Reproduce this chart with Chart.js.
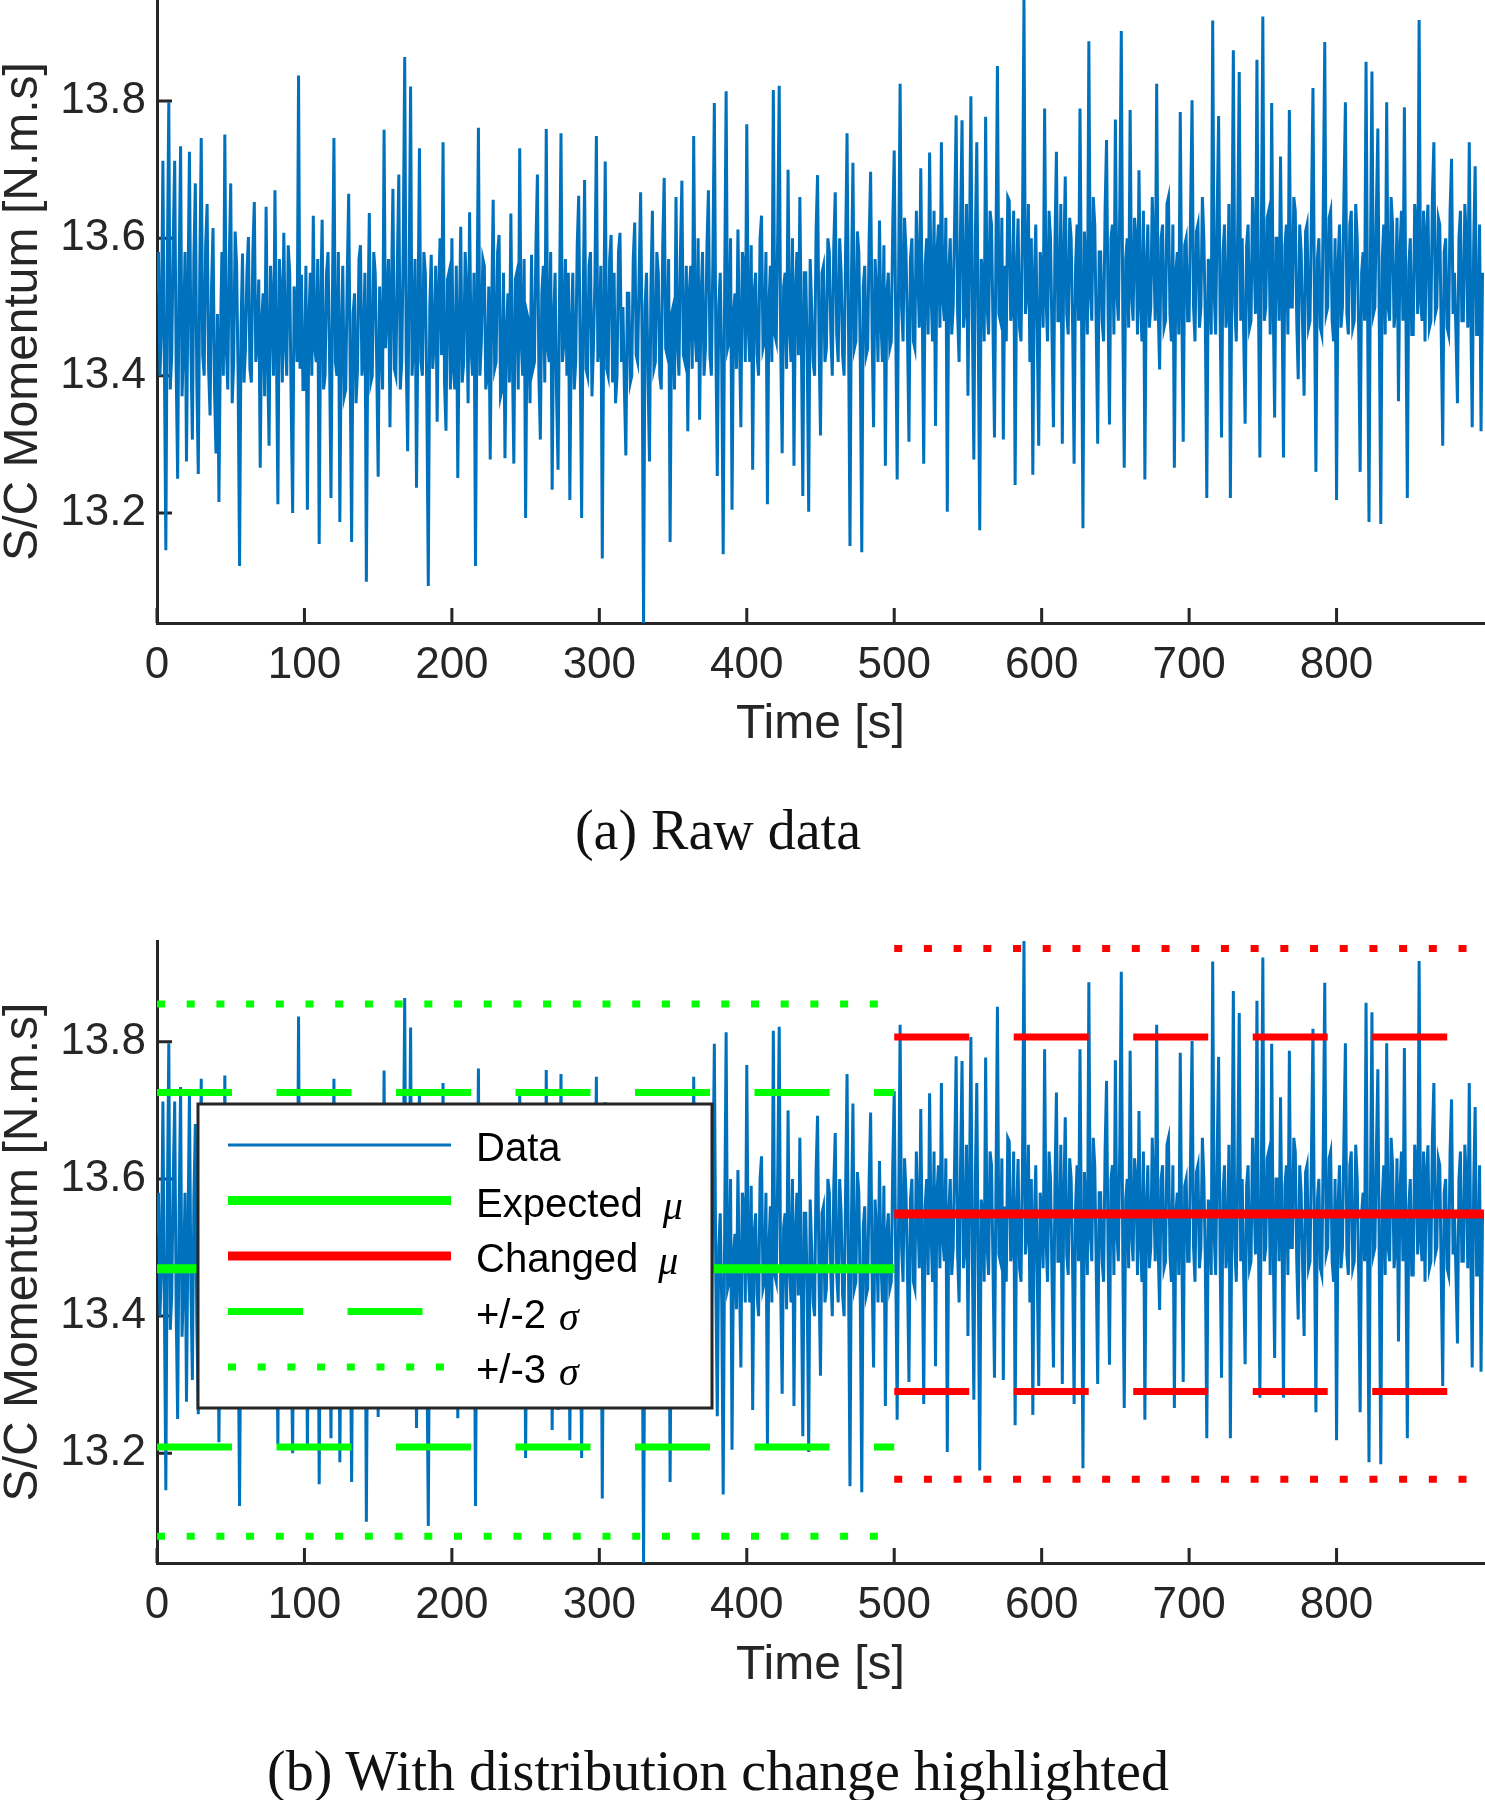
<!DOCTYPE html>
<html>
<head>
<meta charset="utf-8">
<script src="https://cdn.jsdelivr.net/npm/chart.js@4.4.0/dist/chart.umd.min.js"></script>
<style>
  body { margin: 0; background: #fff; width: 1485px; height: 1800px; position: relative; overflow: hidden; }
  .wrap { position: absolute; left: 0; width: 1485px; }
  #wrapA { top: 0; height: 760px; }
  #wrapB { top: 900px; height: 860px; }
  .caption { position: absolute; left: 0; width: 1436px; text-align: center; font-family: "Liberation Serif", serif; font-size: 56px; line-height: 56px; color: #111; }
</style>
</head>
<body>
<div class="wrap" id="wrapA"><canvas id="chartA" width="1485" height="760"></canvas></div>
<div class="caption" style="top:802px">(a) Raw data</div>
<div class="wrap" id="wrapB"><canvas id="chartB" width="1485" height="860"></canvas></div>
<div class="caption" style="top:1743px">(b) With distribution change highlighted</div>
<script>
// momentum samples, one per second starting at t = 0
const sampleStep = 1;
const momentum = [
    13.52, 13.58, 13.40, 13.47, 13.713, 13.42, 13.146, 13.56, 13.798, 13.38, 13.43, 13.60, 13.713, 13.41, 13.25, 13.55, 13.734, 13.37, 13.45, 13.58,
    13.275, 13.52, 13.726, 13.44, 13.307, 13.57, 13.68, 13.39, 13.257, 13.55, 13.746, 13.43, 13.40, 13.59, 13.65, 13.41, 13.342, 13.53, 13.615, 13.38,
    13.287, 13.49, 13.216, 13.45, 13.58, 13.40, 13.751, 13.44, 13.38, 13.57, 13.68, 13.36, 13.42, 13.61, 13.56, 13.40, 13.123, 13.47, 13.578, 13.39,
    13.44, 13.55, 13.602, 13.41, 13.39, 13.58, 13.653, 13.42, 13.45, 13.54, 13.266, 13.48, 13.52, 13.37, 13.646, 13.43, 13.298, 13.56, 13.50, 13.40,
    13.67, 13.44, 13.213, 13.57, 13.52, 13.39, 13.608, 13.45, 13.40, 13.59, 13.55, 13.36, 13.2, 13.53, 13.50, 13.42, 13.837, 13.41, 13.547, 13.38,
    13.38, 13.56, 13.205, 13.48, 13.55, 13.40, 13.633, 13.44, 13.42, 13.57, 13.155, 13.50, 13.627, 13.38, 13.40, 13.55, 13.58, 13.43, 13.222, 13.52,
    13.746, 13.42, 13.40, 13.58, 13.187, 13.46, 13.56, 13.37, 13.38, 13.54, 13.665, 13.41, 13.158, 13.49, 13.52, 13.36, 13.41, 13.57, 13.59, 13.40,
    13.43, 13.55, 13.1, 13.47, 13.637, 13.39, 13.40, 13.58, 13.55, 13.42, 13.253, 13.53, 13.45, 13.38, 13.758, 13.44, 13.50, 13.57, 13.325, 13.52,
    13.672, 13.41, 13.40, 13.56, 13.693, 13.38, 13.42, 13.59, 13.864, 13.43, 13.29, 13.55, 13.821, 13.40, 13.45, 13.57, 13.237, 13.48, 13.731, 13.42,
    13.40, 13.58, 13.55, 13.37, 13.094, 13.50, 13.576, 13.41, 13.45, 13.56, 13.333, 13.52, 13.60, 13.43, 13.74, 13.39, 13.32, 13.54, 13.55, 13.38,
    13.60, 13.41, 13.38, 13.56, 13.251, 13.47, 13.617, 13.39, 13.42, 13.58, 13.52, 13.36, 13.638, 13.44, 13.40, 13.55, 13.123, 13.49, 13.761, 13.40,
    13.45, 13.57, 13.56, 13.38, 13.40, 13.53, 13.278, 13.50, 13.656, 13.41, 13.42, 13.58, 13.605, 13.37, 13.38, 13.55, 13.28, 13.46, 13.52, 13.39,
    13.636, 13.43, 13.272, 13.54, 13.55, 13.38, 13.731, 13.45, 13.40, 13.57, 13.193, 13.49, 13.48, 13.36, 13.576, 13.41, 13.42, 13.59, 13.693, 13.40,
    13.307, 13.52, 13.56, 13.39, 13.759, 13.44, 13.42, 13.58, 13.234, 13.48, 13.55, 13.37, 13.263, 13.51, 13.753, 13.42, 13.45, 13.57, 13.40, 13.55,
    13.219, 13.47, 13.55, 13.38, 13.42, 13.59, 13.662, 13.43, 13.193, 13.50, 13.685, 13.41, 13.40, 13.56, 13.58, 13.37, 13.44, 13.54, 13.749, 13.42,
    13.45, 13.56, 13.134, 13.48, 13.712, 13.41, 13.40, 13.57, 13.605, 13.39, 13.55, 13.36, 13.40, 13.58, 13.608, 13.42, 13.50, 13.38, 13.284, 13.52,
    13.52, 13.39, 13.40, 13.57, 13.623, 13.43, 13.42, 13.55, 13.667, 13.45, 13.04, 13.50, 13.55, 13.40, 13.275, 13.53, 13.64, 13.41, 13.42, 13.58,
    13.55, 13.40, 13.38, 13.59, 13.688, 13.44, 13.43, 13.57, 13.158, 13.49, 13.50, 13.38, 13.66, 13.45, 13.40, 13.58, 13.684, 13.43, 13.42, 13.56,
    13.319, 13.52, 13.56, 13.41, 13.749, 13.46, 13.42, 13.60, 13.336, 13.51, 13.58, 13.40, 13.44, 13.59, 13.67, 13.43, 13.40, 13.57, 13.797, 13.45,
    13.254, 13.50, 13.55, 13.42, 13.14, 13.53, 13.814, 13.44, 13.45, 13.60, 13.205, 13.49, 13.52, 13.41, 13.613, 13.46, 13.325, 13.58, 13.56, 13.42,
    13.766, 13.47, 13.42, 13.59, 13.263, 13.52, 13.55, 13.43, 13.40, 13.60, 13.633, 13.44, 13.45, 13.58, 13.213, 13.50, 13.56, 13.42, 13.816, 13.46,
    13.45, 13.61, 13.822, 13.44, 13.287, 13.53, 13.55, 13.41, 13.70, 13.47, 13.42, 13.60, 13.269, 13.52, 13.58, 13.43, 13.66, 13.46, 13.225, 13.55,
    13.55, 13.43, 13.202, 13.57, 13.50, 13.42, 13.40, 13.61, 13.692, 13.45, 13.313, 13.55, 13.56, 13.42, 13.44, 13.60, 13.58, 13.46, 13.40, 13.59,
    13.667, 13.46, 13.42, 13.60, 13.55, 13.43, 13.40, 13.58, 13.753, 13.47, 13.152, 13.54, 13.71, 13.44, 13.45, 13.61, 13.58, 13.42, 13.143, 13.53,
    13.56, 13.43, 13.44, 13.60, 13.697, 13.46, 13.325, 13.57, 13.52, 13.42, 13.626, 13.48, 13.42, 13.59, 13.269, 13.52, 13.55, 13.44, 13.45, 13.62,
    13.728, 13.48, 13.249, 13.55, 13.825, 13.50, 13.45, 13.63, 13.58, 13.46, 13.304, 13.57, 13.60, 13.45, 13.44, 13.64, 13.55, 13.47, 13.702, 13.50,
    13.272, 13.56, 13.60, 13.46, 13.725, 13.52, 13.45, 13.64, 13.327, 13.58, 13.62, 13.47, 13.74, 13.51, 13.48, 13.63, 13.202, 13.55, 13.60, 13.46,
    13.50, 13.63, 13.779, 13.49, 13.42, 13.62, 13.772, 13.47, 13.50, 13.65, 13.371, 13.58, 13.807, 13.48, 13.278, 13.60, 13.74, 13.46, 13.175, 13.57,
    13.55, 13.45, 13.777, 13.50, 13.46, 13.64, 13.62, 13.47, 13.31, 13.59, 13.851, 13.49, 13.48, 13.63, 13.307, 13.56, 13.45, 13.66, 13.655, 13.48,
    13.50, 13.64, 13.241, 13.55, 13.629, 13.47, 13.45, 13.62, 13.947, 13.49, 13.52, 13.65, 13.42, 13.60, 13.256, 13.54, 13.62, 13.46, 13.298, 13.58,
    13.55, 13.47, 13.789, 13.51, 13.45, 13.64, 13.60, 13.46, 13.325, 13.59, 13.726, 13.48, 13.48, 13.65, 13.301, 13.57, 13.69, 13.49, 13.46, 13.63,
    13.60, 13.47, 13.272, 13.56, 13.62, 13.48, 13.789, 13.50, 13.178, 13.61, 13.55, 13.46, 13.887, 13.52, 13.48, 13.66, 13.62, 13.47, 13.301, 13.58,
    13.58, 13.48, 13.45, 13.64, 13.743, 13.50, 13.329, 13.60, 13.62, 13.46, 13.773, 13.52, 13.48, 13.65, 13.902, 13.49, 13.266, 13.57, 13.60, 13.47,
    13.787, 13.52, 13.48, 13.63, 13.60, 13.46, 13.699, 13.51, 13.45, 13.64, 13.249, 13.56, 13.62, 13.47, 13.50, 13.66, 13.58, 13.48, 13.825, 13.50,
    13.409, 13.60, 13.62, 13.47, 13.48, 13.65, 13.66, 13.49, 13.45, 13.62, 13.266, 13.55, 13.58, 13.46, 13.784, 13.51, 13.304, 13.59, 13.60, 13.48,
    13.48, 13.64, 13.801, 13.50, 13.45, 13.61, 13.62, 13.47, 13.50, 13.66, 13.60, 13.48, 13.222, 13.57, 13.55, 13.46, 13.917, 13.52, 13.46, 13.63,
    13.778, 13.49, 13.31, 13.58, 13.62, 13.47, 13.50, 13.65, 13.222, 13.56, 13.874, 13.50, 13.45, 13.62, 13.842, 13.48, 13.60, 13.46, 13.33, 13.59,
    13.62, 13.47, 13.48, 13.66, 13.58, 13.49, 13.86, 13.52, 13.281, 13.60, 13.923, 13.48, 13.50, 13.63, 13.64, 13.46, 13.797, 13.51, 13.339, 13.60,
    13.60, 13.48, 13.719, 13.52, 13.281, 13.59, 13.62, 13.46, 13.787, 13.50, 13.50, 13.66, 13.64, 13.48, 13.395, 13.62, 13.58, 13.47, 13.371, 13.61,
    13.62, 13.47, 13.48, 13.64, 13.819, 13.51, 13.26, 13.57, 13.60, 13.47, 13.46, 13.65, 13.886, 13.49, 13.50, 13.63, 13.64, 13.48, 13.45, 13.60,
    13.219, 13.56, 13.62, 13.47, 13.50, 13.66, 13.798, 13.49, 13.46, 13.62, 13.64, 13.47, 13.48, 13.65, 13.60, 13.46, 13.26, 13.55, 13.58, 13.48,
    13.857, 13.51, 13.187, 13.58, 13.843, 13.49, 13.50, 13.64, 13.76, 13.47, 13.184, 13.57, 13.62, 13.46, 13.798, 13.50, 13.48, 13.66, 13.62, 13.47,
    13.50, 13.63, 13.363, 13.58, 13.64, 13.48, 13.791, 13.50, 13.222, 13.56, 13.60, 13.46, 13.46, 13.65, 13.62, 13.49, 13.918, 13.51, 13.48, 13.64,
    13.45, 13.61, 13.649, 13.47, 13.48, 13.66, 13.74, 13.49, 13.50, 13.63, 13.62, 13.46, 13.298, 13.58, 13.60, 13.47, 13.46, 13.64, 13.716, 13.49,
    13.55, 13.46, 13.36, 13.60, 13.64, 13.48, 13.48, 13.65, 13.60, 13.47, 13.74, 13.50, 13.325, 13.59, 13.705, 13.46, 13.46, 13.62, 13.319, 13.55
];

// expected distribution (before the change) and changed distribution (after)
const expectedSpan = [0, 500];
const expectedLevels = { mu: 13.469, plus2: 13.726, minus2: 13.209, plus3: 13.855, minus3: 13.079 };
const changedSpan = [500, 900];
const changedLevels = { mu: 13.549, plus2: 13.807, minus2: 13.290, plus3: 13.936, minus3: 13.162 };

const xTicks = [0, 100, 200, 300, 400, 500, 600, 700, 800];
const xTickLabels = ['0', '100', '200', '300', '400', '500', '600', '700', '800'];
const yTicks = [13.2, 13.4, 13.6, 13.8];
const yTickLabels = ['13.2', '13.4', '13.6', '13.8'];
const xLimits = [0, 900];
const yLimits = [13.04, 13.947];

const legendLabels = ['Data', 'Expected', 'Changed', '+/-2', '+/-3'];
const legendSymbols = ['', 'μ', 'μ', 'σ', 'σ'];

const blue = '#0072BD';
const green = '#00FF00';
const red = '#FF0000';
const axisColor = '#262626';
const sans = '"Liberation Sans", Arial, sans-serif';

const dataPoints = momentum.map((v, i) => ({ x: i * sampleStep, y: v }));

function dataSet() {
    return { label: 'Data', data: dataPoints, borderColor: blue, borderWidth: 3, pointRadius: 0, tension: 0, order: 10 };
}

function levelSet(span, level, color, width, dash) {
    return {
        label: '', data: [{ x: span[0], y: level }, { x: span[1], y: level }],
        borderColor: color, borderWidth: width, borderDash: dash, borderCapStyle: 'butt',
        pointRadius: 0, order: 0
    };
}

const tickMarks = {
    id: 'tickMarks',
    beforeDatasetsDraw(chart) {
        const { ctx, chartArea, scales: { x, y } } = chart;
        ctx.save();
        ctx.strokeStyle = axisColor;
        ctx.lineWidth = 3;
        ctx.beginPath();
        x.ticks.forEach(t => {
            const px = x.getPixelForValue(t.value);
            ctx.moveTo(px, chartArea.bottom);
            ctx.lineTo(px, chartArea.bottom - 15);
        });
        y.ticks.forEach(t => {
            const py = y.getPixelForValue(t.value);
            ctx.moveTo(chartArea.left, py);
            ctx.lineTo(chartArea.left + 15, py);
        });
        ctx.stroke();
        ctx.restore();
    }
};

// legend box drawn inside the lower plot, from the datasets' own styles
const boxLegend = {
    id: 'boxLegend',
    afterDraw(chart) {
        const ctx = chart.ctx;
        const sets = chart.data.datasets;
        const refs = [0, 1, 2, 3, 7];
        ctx.save();
        ctx.fillStyle = '#fff';
        ctx.fillRect(198, 204, 514, 304);
        ctx.strokeStyle = axisColor;
        ctx.lineWidth = 3;
        ctx.strokeRect(198, 204, 514, 304);
        refs.forEach((di, i) => {
            const ds = sets[di];
            const yy = 245 + i * 55.5;
            ctx.setLineDash(ds.borderDash || []);
            ctx.lineCap = 'butt';
            ctx.strokeStyle = ds.borderColor;
            ctx.lineWidth = ds.borderWidth;
            ctx.beginPath();
            ctx.moveTo(228, yy);
            ctx.lineTo(451, yy);
            ctx.stroke();
            ctx.setLineDash([]);
            ctx.fillStyle = '#000';
            ctx.textBaseline = 'alphabetic';
            ctx.font = '40px ' + sans;
            ctx.fillText(legendLabels[i], 476, yy + 16);
            if (legendSymbols[i]) {
                const w = ctx.measureText(legendLabels[i]).width;
                const gap = legendSymbols[i] === 'μ' ? 20 : 13;
                ctx.font = 'italic 40px "Liberation Serif", serif';
                ctx.fillText(legendSymbols[i], 476 + w + gap, yy + 18);
            }
        });
        ctx.restore();
    }
};

function makeChart(id, datasets, padTop, xAxisHeight, titlePadBottom, plugins) {
    return new Chart(document.getElementById(id), {
        type: 'line',
        data: { datasets: datasets },
        options: {
            responsive: false,
            animation: false,
            events: [],
            layout: { autoPadding: false, padding: { top: padTop, right: 1, left: 0, bottom: 0 } },
            plugins: { legend: { display: false }, tooltip: { enabled: false } },
            scales: {
                x: {
                    type: 'linear', min: xLimits[0], max: xLimits[1],
                    afterFit: s => { s.height = xAxisHeight; s.paddingLeft = 0; s.paddingRight = 0; },
                    afterBuildTicks: s => { s.ticks = xTicks.map(v => ({ value: v })); },
                    grid: { display: false, drawTicks: false, tickLength: 0 },
                    border: { display: true, color: axisColor, width: 3 },
                    ticks: {
                        font: { family: sans, size: 44, lineHeight: 1 }, color: axisColor,
                        padding: 21, maxRotation: 0, autoSkip: false,
                        callback: (v, i) => xTickLabels[i]
                    },
                    title: {
                        display: true, text: 'Time [s]', color: axisColor,
                        font: { family: sans, size: 48, lineHeight: 1 },
                        padding: { top: 0, bottom: titlePadBottom }
                    }
                },
                y: {
                    type: 'linear', min: yLimits[0], max: yLimits[1],
                    afterFit: s => { s.width = 157; s.paddingTop = 0; s.paddingBottom = 0; },
                    afterBuildTicks: s => { s.ticks = yTicks.map(v => ({ value: v })); },
                    grid: { display: false, drawTicks: false, tickLength: 0 },
                    border: { display: true, color: axisColor, width: 3 },
                    ticks: {
                        font: { family: sans, size: 44, lineHeight: 1 }, color: axisColor,
                        padding: 11, autoSkip: false,
                        callback: (v, i) => yTickLabels[i]
                    },
                    title: {
                        display: true, text: 'S/C Momentum [N.m.s]', color: axisColor,
                        font: { family: sans, size: 48, lineHeight: 1 },
                        padding: { top: 0, bottom: 0 }
                    }
                }
            }
        },
        plugins: plugins
    });
}

makeChart('chartA', [dataSet()], 0, 137, 11, [tickMarks]);

const dashed = [75, 44.5];
const dotted = [8, 21.7];
makeChart('chartB', [
    dataSet(),
    levelSet(expectedSpan, expectedLevels.mu, green, 9, []),
    levelSet(changedSpan, changedLevels.mu, red, 9, []),
    levelSet(expectedSpan, expectedLevels.plus2, green, 7, dashed),
    levelSet(expectedSpan, expectedLevels.minus2, green, 7, dashed),
    levelSet(changedSpan, changedLevels.plus2, red, 7, dashed),
    levelSet(changedSpan, changedLevels.minus2, red, 7, dashed),
    levelSet(expectedSpan, expectedLevels.plus3, green, 7, dotted),
    levelSet(expectedSpan, expectedLevels.minus3, green, 7, dotted),
    levelSet(changedSpan, changedLevels.plus3, red, 7, dotted),
    levelSet(changedSpan, changedLevels.minus3, red, 7, dotted)
], 41, 197, 70, [tickMarks, boxLegend]);
</script>
</body>
</html>
